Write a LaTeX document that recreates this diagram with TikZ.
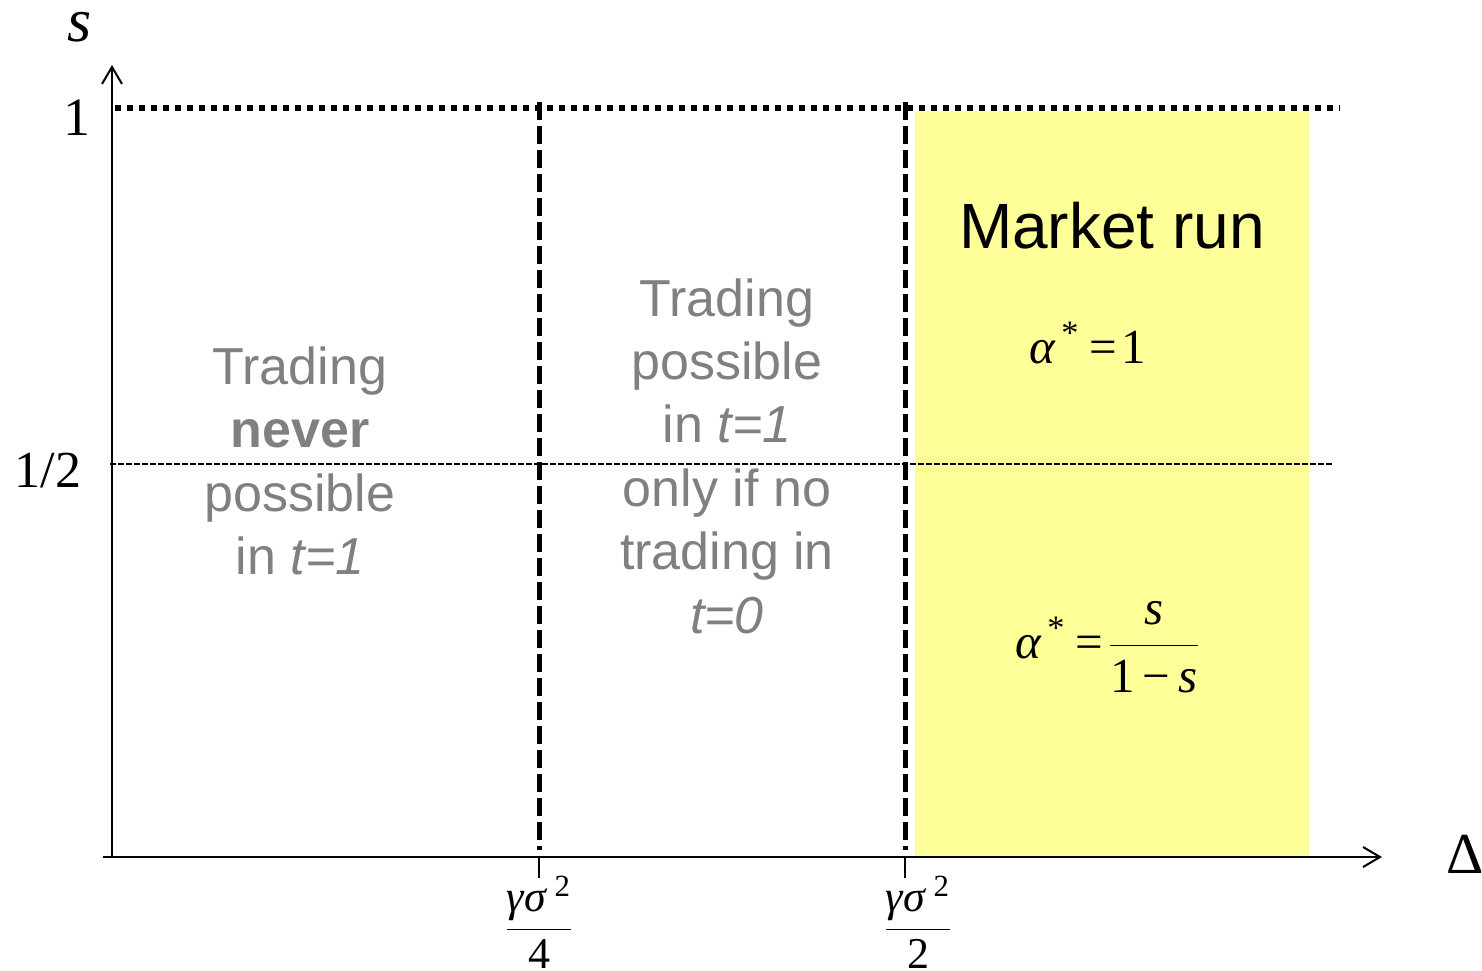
\documentclass[tikz,border=0pt]{standalone}
\usepackage{fontspec}
\setmainfont{Liberation Serif}
\newfontfamily\arialfont{Liberation Sans}
\usetikzlibrary{arrows.meta}
\definecolor{regiongray}{RGB}{128,128,128}
\definecolor{runyellow}{RGB}{255,255,153}
\tikzset{
  axis/.style={line width=1pt,-{Straight Barb[length=8.5pt,width=10pt]}},
  bound/.style={line width=2.5pt,dash pattern=on 9pt off 3pt},
  region/.style={text=regiongray,align=center,font=\arialfont\fontsize{26}{31.7}\selectfont},
  eqn/.style={anchor=base west,font=\fontsize{24.5}{30}\selectfont},
  ticklab/.style={anchor=base,font=\fontsize{22}{26}\selectfont},
}
\begin{document}
\begin{tikzpicture}[x=0.5pt,y=-0.5pt]
\useasboundingbox (0,0) rectangle (1482,970);
\coordinate (O) at (112,857);
\coordinate (q4) at (539,857);
\coordinate (q2) at (905,857);
% market run area
\fill[runyellow] (915,111) rectangle (1309,857);
% axes
\draw[axis] (103,857) -- (1382,857);
\draw[axis] (O) -- (112,65);
\draw[line width=3pt,dash pattern=on 3pt off 3pt] (115,108) -- (1340,108);
\draw[line width=0.7pt,dash pattern=on 3pt off 1pt] (110,464) -- (1333,464);
\draw[bound] (539,102) -- (539,850);
\draw[bound] (905,102) -- (905,850);
\draw[line width=1pt] (q4) -- ++(0,21);
\draw[line width=1pt] (q2) -- ++(0,21);
\node[anchor=base,font=\itshape\fontsize{31}{31}\selectfont] (slab) at (80,41) {s};
\node[anchor=base,font=\fontsize{27}{27}\selectfont] (one) at (77,135) {1};
\node[anchor=base,font=\fontsize{26}{26}\selectfont] (half) at (48,487) {1/2};
\node[anchor=base,font=\fontsize{29}{29}\selectfont] (delta) at (1465,873) {Δ};
\node[ticklab] (qlab4) at (539,940) {$\displaystyle\frac{\mbox{\textit{γσ}\,\textsuperscript{2}}}{\mbox{4}}$};
\node[ticklab] (qlab2) at (918,940) {$\displaystyle\frac{\mbox{\textit{γσ}\,\textsuperscript{2}}}{\mbox{2}}$};
% regions
\node[region] (never) at (300,461) {Trading\\\textbf{never}\\possible\\in \textit{t=1}};
\node[region] (onlyif) at (727,456) {Trading\\possible\\in \textit{t=1}\\only if no\\trading in\\\textit{t=0}};
\node[anchor=base,font=\arialfont\fontsize{32}{32}\selectfont] (run) at (1112,248) {Market run};
\node[eqn] (afull) at (1022,363) {\textit{α}\textsuperscript{\,*}\hspace{0.2em}=\hspace{0.1em}1};
\node[eqn] (apart) at (1008,658) {\textit{α}\textsuperscript{\,*}\hspace{0.2em}=\hspace{0.1em}$\displaystyle\frac{\mbox{\textit{s}}}{\mbox{1\,−\,\textit{s}}}$};
\end{tikzpicture}
\end{document}
